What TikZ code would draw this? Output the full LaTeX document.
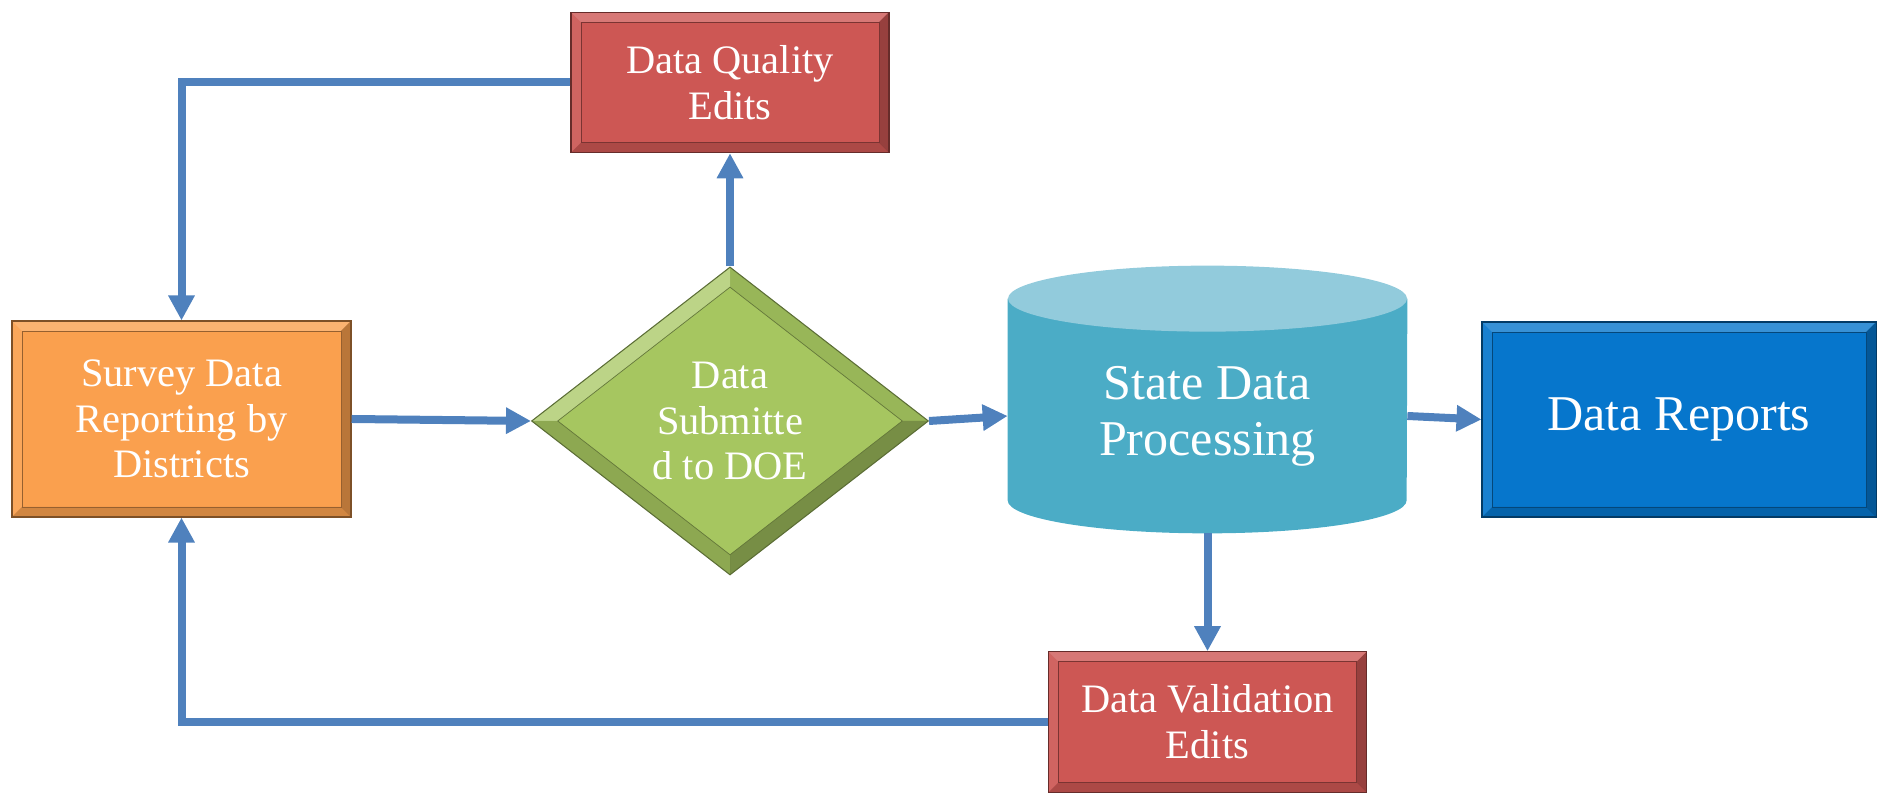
\documentclass[tikz,border=0pt]{standalone}
\usepackage{fontspec}
\setmainfont{Liberation Serif}
\usetikzlibrary{arrows.meta, shapes.geometric, backgrounds}
\definecolor{flowblue}{RGB}{79,129,189}
\definecolor{survorange}{RGB}{250,160,78}
\definecolor{editred}{RGB}{205,87,84}
\definecolor{repblue}{RGB}{6,118,204}
\definecolor{decgreen}{RGB}{166,198,96}
\definecolor{cylbody}{RGB}{75,172,198}
\definecolor{cyltop}{RGB}{146,203,220}
\newcommand{\txtsmall}{\fontsize{23}{26}\selectfont}
\newcommand{\txtbig}{\fontsize{28.5}{32}\selectfont}
\newcommand{\bevw}{0.2cm}
\tikzset{
  bevelbox/.style = {rectangle, align=center, text=white, inner sep=2pt,
    fill=#1, draw=#1!50!black, line width=0.6pt,
    path picture={
      \coordinate (pa) at (path picture bounding box.north west);
      \coordinate (pb) at (path picture bounding box.north east);
      \coordinate (pc) at (path picture bounding box.south east);
      \coordinate (pd) at (path picture bounding box.south west);
      \coordinate (qa) at ([shift={(\bevw,-\bevw)}]pa);
      \coordinate (qb) at ([shift={(-\bevw,-\bevw)}]pb);
      \coordinate (qc) at ([shift={(-\bevw,\bevw)}]pc);
      \coordinate (qd) at ([shift={(\bevw,\bevw)}]pd);
      \fill[white, opacity=0.2] (pa) -- (pb) -- (qb) -- (qa) -- cycle;
      \fill[white, opacity=0.08] (pa) -- (qa) -- (qd) -- (pd) -- cycle;
      \fill[black, opacity=0.16] (pd) -- (qd) -- (qc) -- (pc) -- cycle;
      \fill[black, opacity=0.26] (pb) -- (pc) -- (qc) -- (qb) -- cycle;
      \draw[#1!60!black, line width=0.4pt] (qa) rectangle (qc);
    }},
  box_orange/.style = {bevelbox=survorange, minimum width=6.78cm,
    minimum height=3.92cm, font=\txtsmall},
  box_red/.style = {bevelbox=editred, minimum width=6.36cm,
    minimum height=2.81cm, font=\txtsmall},
  box_blue/.style = {bevelbox=repblue, minimum width=7.88cm,
    minimum height=3.9cm, font=\txtbig},
  dec_green/.style = {diamond, aspect=1.29, inner sep=0pt, align=center,
    text=white, font=\txtsmall, minimum width=7.94cm, minimum height=6.16cm,
    fill=decgreen, draw=decgreen!55!black, line width=0.6pt,
    path picture={
      \coordinate (pN) at (path picture bounding box.north);
      \coordinate (pS) at (path picture bounding box.south);
      \coordinate (pE) at (path picture bounding box.east);
      \coordinate (pW) at (path picture bounding box.west);
      \coordinate (qN) at ([yshift=-0.4cm]pN);
      \coordinate (qS) at ([yshift=0.4cm]pS);
      \coordinate (qE) at ([xshift=-0.52cm]pE);
      \coordinate (qW) at ([xshift=0.52cm]pW);
      \fill[white, opacity=0.25] (pW) -- (pN) -- (qN) -- (qW) -- cycle;
      \fill[black, opacity=0.08] (pN) -- (pE) -- (qE) -- (qN) -- cycle;
      \fill[black, opacity=0.15] (pW) -- (pS) -- (qS) -- (qW) -- cycle;
      \fill[black, opacity=0.28] (pS) -- (pE) -- (qE) -- (qS) -- cycle;
      \draw[decgreen!60!black, line width=0.4pt] (qN) -- (qE) -- (qS) -- (qW) -- cycle;
    }},
  db_cyl/.style = {rectangle, inner sep=0pt, align=center, text=white,
    font=\txtbig, minimum width=7.98cm, minimum height=4.68cm},
  flow/.style = {draw=flowblue, line width=0.16cm,
    -{Triangle[length=0.5cm, width=0.5cm]}}
}

\begin{document}
\begin{tikzpicture}
  \useasboundingbox (0,0) rectangle (37.56,15.86);
  \node (survey) [box_orange] at (3.63,7.48) {Survey Data\\Reporting by\\Districts};
  \node (dec) [dec_green] at (14.6,7.44) {Data\\Submitte\\d to DOE};
  \node (dqe) [box_red] at (14.6,14.21) {Data Quality\\Edits};
  \node (sdp) [db_cyl] at (24.15,7.54) {State Data\\Processing};
  \node (rep) [box_blue] at (33.58,7.47) {Data Reports};
  \node (dve) [box_red] at (24.15,1.42) {Data Validation\\Edits};
  % cylinder body and lid
  \begin{scope}[on background layer]
    \fill[cylbody] (sdp.north west) -- ([yshift=0.66cm]sdp.south west)
      arc[start angle=180, end angle=360, x radius=3.99cm, y radius=0.66cm]
      -- (sdp.north east) -- cycle;
    \fill[cyltop] (sdp.north) ellipse [x radius=3.99cm, y radius=0.66cm];
  \end{scope}
  \draw[flow] (survey.east) -- (dec.west);
  \draw[flow] (dec.east) -- (sdp.west);
  \draw[flow] (sdp.east) -- (rep.west);
  \draw[flow] (dec.north) -- (dqe.south);
  \draw[flow] (sdp.south) -- (dve.north);
  \draw[flow] (dqe.west) -| (survey.north);
  \draw[flow] (dve.west) -| (survey.south);
\end{tikzpicture}
\end{document}
